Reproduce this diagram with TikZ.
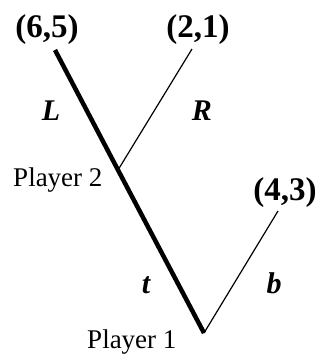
\documentclass[tikz,border=0pt]{standalone}
\usepackage{fontspec}
\setmainfont{Liberation Serif}
\begin{document}
\begin{tikzpicture}[x=1pt,y=-1pt]
\useasboundingbox (0,0) rectangle (324,362);
% decision nodes
\coordinate (pone) at (204,333);
\coordinate (ptwo) at (118,170);
% end nodes
\coordinate (leafL) at (55,50);
\coordinate (leafR) at (192,49);
\coordinate (leafb) at (278,211);

% Branches (equilibrium path is thick)
\draw[line width=4.5pt] (pone) -- (ptwo) -- (leafL);
\draw[line width=1.2pt] (ptwo) -- (leafR);
\draw[line width=1.2pt] (pone) -- (leafb);

% Payoffs
\node[font=\fontsize{33}{33}\selectfont\bfseries, anchor=base] (payL) at (47,37) {(6,5)};
\node[font=\fontsize{33}{33}\selectfont\bfseries, anchor=base] (payR) at (198,37) {(2,1)};
\node[font=\fontsize{33}{33}\selectfont\bfseries, anchor=base] (payb) at (285,200) {(4,3)};

% Players
\node[font=\fontsize{27}{27}\selectfont, anchor=base east] (lbltwo) at (106,186) {Player 2};
\node[font=\fontsize{27}{27}\selectfont, anchor=base east] (lblone) at (180,348) {Player 1};

% Actions
\node[font=\fontsize{30}{30}\selectfont\bfseries\itshape, anchor=base] (actL) at (51,120) {L};
\node[font=\fontsize{30}{30}\selectfont\bfseries\itshape, anchor=base] (actR) at (202,120) {R};
\node[font=\fontsize{30}{30}\selectfont\bfseries\itshape, anchor=base] (actt) at (146,293) {t};
\node[font=\fontsize{30}{30}\selectfont\bfseries\itshape, anchor=base] (actb) at (274,293) {b};
\end{tikzpicture}
\end{document}
